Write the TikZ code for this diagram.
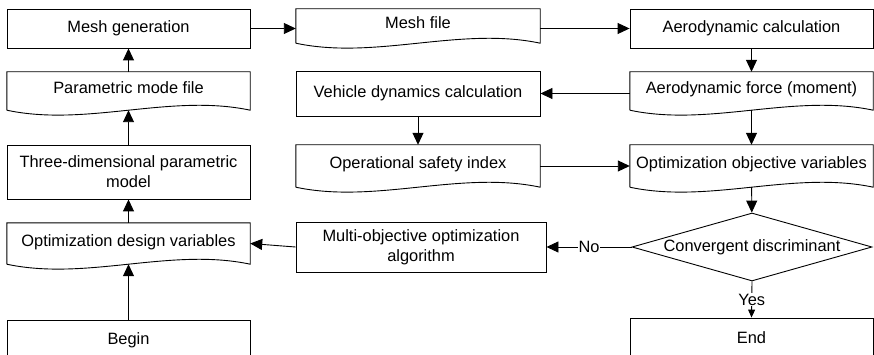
\documentclass[tikz,border=0pt]{standalone}
\usepackage{fontspec}
\setmainfont{Liberation Sans}
\usetikzlibrary{shapes.geometric,arrows.meta}

\tikzset{
    box/.style={draw, line width=0.9pt, inner sep=0pt, align=center},
    docbox/.style={inner sep=0pt, align=center, text height=12pt, text depth=6pt,
        append after command={\pgfextra{\draw[line width=0.9pt]
            (\tikzlastnode.south west) -- (\tikzlastnode.north west) -- (\tikzlastnode.north east)
            -- (\tikzlastnode.south east)
            .. controls +(-80pt,17pt) and +(80pt,-17pt) .. (\tikzlastnode.south west);}}},
    decision/.style={draw, line width=0.9pt, diamond, aspect=3.5, inner sep=0pt,
        minimum width=240pt, minimum height=68pt},
    arrow/.style={line width=0.9pt, -{Triangle[length=12pt,width=11pt]}},
    smallarrow/.style={line width=0.9pt, -{Triangle[length=8pt,width=7pt]}}
}

\begin{document}
\begin{tikzpicture}[x=1pt, y=-1pt, font=\fontsize{16.4}{20}\selectfont]
    \useasboundingbox (0,0) rectangle (874,355);

    % Left column
    \node[box, minimum width=243pt, minimum height=39pt] (gen) at (128.5,28.5) {Mesh generation};
    \node[docbox, minimum width=243pt, minimum height=38pt] (pfile) at (128.5,91) {Parametric mode file};
    \node[box, minimum width=243pt, minimum height=54pt] (three) at (128.5,172) {Three-dimensional parametric\\model};
    \node[docbox, minimum width=243pt, minimum height=41pt] (design) at (128.5,243.5) {Optimization design variables};
    \node[box, minimum width=243pt, minimum height=40pt] (begin) at (128.5,340) {Begin};

    % Middle column
    \node[docbox, minimum width=244pt, minimum height=34pt] (mfile) at (418,26) {Mesh file};
    \node[box, minimum width=244pt, minimum height=45pt] (vdyn) at (418,93.5) {Vehicle dynamics calculation};
    \node[docbox, minimum width=244pt, minimum height=42pt] (osafe) at (418,166) {Operational safety index};
    \node[box, minimum width=250pt, minimum height=50pt] (multi) at (421,247) {Multi-objective optimization\\algorithm};

    % Right column
    \node[box, minimum width=243pt, minimum height=39pt] (acalc) at (751.5,28.5) {Aerodynamic calculation};
    \node[docbox, minimum width=243pt, minimum height=38pt] (aforce) at (751.5,91) {Aerodynamic force (moment)};
    \node[docbox, minimum width=243pt, minimum height=42pt] (oobj) at (751.5,166) {Optimization objective variables};
    \node[decision] (conv) at (752,247) {Convergent discriminant};
    \node[box, minimum width=243pt, minimum height=40pt] (end) at (751.5,338) {End};

    % Connectors
    \draw[arrow] (gen.east) -- (mfile.west |- gen.east);
    \draw[arrow] (mfile.east |- acalc.west) -- (acalc.west);
    \draw[arrow] (acalc) -- (aforce);
    \draw[arrow] (aforce.west |- vdyn.east) -- (vdyn.east);
    \draw[arrow] (aforce) -- (oobj);
    \draw[arrow] (vdyn) -- (osafe);
    \draw[arrow] (osafe.east) -- (oobj.west);
    \draw[arrow] (oobj) -- (conv);
    \draw[arrow] (conv.west) -- node[fill=white, inner sep=1pt] {No} (multi.east);
    \draw[smallarrow] (conv.south) -- node[fill=white, inner sep=1pt] {Yes} (end.north);
    \draw[arrow] (multi.west) -- (design.east);
    \draw[arrow] (begin) -- (design);
    \draw[arrow] (design) -- (three);
    \draw[arrow] (three) -- (pfile);
    \draw[arrow] (pfile) -- (gen);
\end{tikzpicture}
\end{document}
